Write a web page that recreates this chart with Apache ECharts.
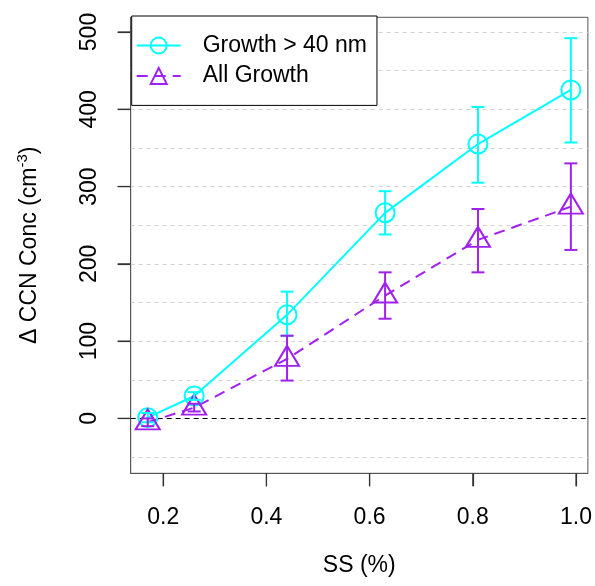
<!DOCTYPE html>
<html>
<head>
<meta charset="utf-8">
<script src="https://cdn.jsdelivr.net/npm/echarts@6/dist/echarts.min.js"></script>
<style>html,body{margin:0;padding:0;background:#fff}#c{width:595px;height:586px}</style>
</head>
<body>
<div id="c"></div>
<script>
// ---- data ----
var ss = [0.17, 0.26, 0.44, 0.63, 0.81, 0.99];
var growth40 = [1, 29, 134, 266, 355, 425];
var growth40Low = [-5, 24, 107, 238, 305, 357];
var growth40High = [7, 34, 164, 294, 403, 492];
var allGrowth = [-5, 14, 77, 159, 231, 274];
var allGrowthLow = [-10, 9, 49, 129, 189, 218];
var allGrowthHigh = [0, 19, 107, 189, 271, 330];
var xTicks = [0.2, 0.4, 0.6, 0.8, 1.0];
var yTicks = [0, 100, 200, 300, 400, 500];
var yGrid = [-50, 50, 100, 150, 200, 250, 300, 350, 400, 450, 500];
var zeroLine = [0];
var seriesNames = ['Growth > 40 nm', 'All Growth'];
var xRange = [0.137, 1.023];
var yRange = [-71, 519];

var FONT = 'Liberation Sans, Arial, sans-serif';
var FS = 23;
var CYAN = '#00FFFF', PURPLE = '#A020F0';
var TICK = '#333';

function pairs(xs, ys) { return xs.map(function (x, i) { return [x, ys[i]]; }); }
function triples(xs, lo, hi) { return xs.map(function (x, i) { return [x, lo[i], hi[i]]; }); }

function errRender(color) {
  return function (params, api) {
    var x = api.value(0), lo = api.value(1), hi = api.value(2);
    var a = api.coord([x, lo]), b = api.coord([x, hi]);
    var w = 6.5;
    var st = { stroke: color, lineWidth: 2, fill: null };
    return {
      type: 'group',
      children: [
        { type: 'line', shape: { x1: a[0], y1: a[1], x2: b[0], y2: b[1] }, style: st },
        { type: 'line', shape: { x1: a[0] - w, y1: a[1], x2: a[0] + w, y2: a[1] }, style: st },
        { type: 'line', shape: { x1: b[0] - w, y1: b[1], x2: b[0] + w, y2: b[1] }, style: st }
      ]
    };
  };
}
function xTickRender(params, api) {
  var p = api.coord([api.value(0), yRange[0]]);
  return { type: 'line', shape: { x1: p[0], y1: p[1], x2: p[0], y2: p[1] + 13 }, style: { stroke: TICK, lineWidth: 1.2 } };
}
function yTickRender(params, api) {
  var p = api.coord([xRange[0], api.value(1)]);
  return { type: 'line', shape: { x1: p[0], y1: p[1], x2: p[0] - 13, y2: p[1] }, style: { stroke: TICK, lineWidth: 1.2 } };
}

var chart = echarts.init(document.getElementById('c'), null, { renderer: 'canvas' });
chart.setOption({
  animation: false,
  backgroundColor: '#fff',
  textStyle: { fontFamily: FONT },
  grid: { left: 130.7, top: 17.3, width: 458.3, height: 456, show: true, borderColor: '#555', borderWidth: 1 },
  legend: {
    orient: 'vertical', left: 131.7, top: 16, z: 20,
    padding: [18, 10, 18, 4], itemWidth: 44, itemHeight: 20, itemGap: 7.4,
    borderColor: '#000', borderWidth: 1, backgroundColor: '#fff',
    textStyle: { fontSize: FS, color: '#000', fontFamily: FONT, padding: [0, 0, 0, 17] },
    data: seriesNames
  },
  xAxis: {
    type: 'value', min: xRange[0], max: xRange[1],
    name: 'SS (%)', nameLocation: 'middle', nameGap: 81,
    nameTextStyle: { fontSize: FS, color: '#000', fontFamily: FONT },
    axisLine: { show: true, onZero: false, lineStyle: { color: '#555', width: 1 } },
    axisTick: { show: true, length: 13, lineStyle: { color: TICK, width: 1.2 }, customValues: xTicks },
    axisLabel: { fontSize: FS, color: '#000', fontFamily: FONT, margin: 33, customValues: xTicks,
      formatter: function (v) { return v.toFixed(1); } },
    splitLine: { show: false }
  },
  yAxis: {
    type: 'value', min: yRange[0], max: yRange[1],
    name: '{a|\u0394 CCN Conc (cm}{s|-3}{a|)}', nameLocation: 'middle', nameGap: 87,
    nameTextStyle: { fontSize: FS, color: '#000', fontFamily: FONT,
      rich: { a: { fontSize: FS, fontFamily: FONT, color: '#000', lineHeight: 28 },
              s: { fontSize: 15, fontFamily: FONT, color: '#000', lineHeight: 15, verticalAlign: 'top' } } },
    axisLine: { show: true, onZero: false, lineStyle: { color: '#555', width: 1 } },
    axisTick: { show: true, length: 13, lineStyle: { color: TICK, width: 1.2 }, customValues: yTicks },
    axisLabel: { fontSize: FS, color: '#000', fontFamily: FONT, rotate: 90, margin: 30, customValues: yTicks },
    splitLine: { show: false }
  },
  series: [
    {
      name: 'grid', type: 'line', data: [], silent: true, z: 1,
      markLine: {
        silent: true, symbol: 'none', label: { show: false }, z: 1,
        lineStyle: { color: '#d3d3d3', type: [4, 4], width: 1 },
        data: yGrid.map(function (v) { return { yAxis: v }; })
      }
    },
    {
      name: 'zero', type: 'line', data: [], silent: true, z: 1,
      markLine: {
        silent: true, symbol: 'none', label: { show: false }, z: 1,
        lineStyle: { color: '#000', type: [5, 4], width: 1 },
        data: zeroLine.map(function (v) { return { yAxis: v }; })
      }
    },
    {
      name: 'xticks', type: 'custom', silent: true, clip: false, z: 5,
      data: xTicks.map(function (v) { return [v, yRange[0]]; }),
      encode: { x: 0, y: 1 }, renderItem: xTickRender
    },
    {
      name: 'yticks', type: 'custom', silent: true, clip: false, z: 5,
      data: yTicks.map(function (v) { return [xRange[0], v]; }),
      encode: { x: 0, y: 1 }, renderItem: yTickRender
    },
    {
      name: seriesNames[0], type: 'line', data: pairs(ss, growth40),
      symbol: 'circle', symbolSize: 19,
      itemStyle: { color: 'rgba(0,0,0,0)', borderColor: CYAN, borderWidth: 2 },
      lineStyle: { color: CYAN, width: 2 }, z: 3
    },
    {
      name: seriesNames[1], type: 'line', data: pairs(ss, allGrowth),
      symbol: 'triangle', symbolSize: [24, 20], symbolOffset: [0, -3],
      itemStyle: { color: 'rgba(0,0,0,0)', borderColor: PURPLE, borderWidth: 2 },
      lineStyle: { color: PURPLE, width: 2, type: [11, 7] }, z: 3
    },
    {
      name: 'err40', type: 'custom', data: triples(ss, growth40Low, growth40High),
      encode: { x: 0, y: [1, 2] }, renderItem: errRender(CYAN), silent: true, z: 4
    },
    {
      name: 'errAll', type: 'custom', data: triples(ss, allGrowthLow, allGrowthHigh),
      encode: { x: 0, y: [1, 2] }, renderItem: errRender(PURPLE), silent: true, z: 4
    }
  ]
});
</script>
</body>
</html>
